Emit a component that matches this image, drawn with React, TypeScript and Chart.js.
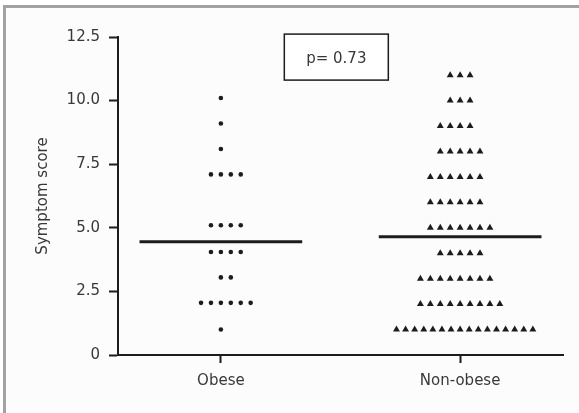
import React, { useEffect, useRef } from 'react';
import { Chart, registerables } from 'chart.js';

Chart.register(...registerables);

// ---- data ----
const categories = ['Obese', 'Non-obese'];
const obeseScores = [10.1, 9.1, 8.1, 7.1, 5.1, 4.05, 3.05, 2.05, 1.0];
const obeseCounts = [1, 1, 1, 4, 4, 4, 2, 6, 1];
const nonObeseScores = [11, 10, 9, 8, 7, 6, 5, 4, 3, 2, 1];
const nonObeseCounts = [3, 3, 4, 5, 6, 6, 7, 5, 8, 9, 16];
const medians = [4.45, 4.65];
const yTicks = [0, 2.5, 5, 7.5, 10, 12.5];
const pValueText = 'p= 0.73';

const INK = '#1c1c1c';
const TEXT = '#383838';
const FONT = "'DejaVu Sans', sans-serif";

// beeswarm-style row layout (like GraphPad scatter dot plots)
function swarm(center: number, scores: number[], counts: number[], leanRight: boolean) {
  const step = 0.0415;
  const maxSpan = 0.57;
  const pts: { x: number; y: number }[] = [];
  scores.forEach((s, i) => {
    const n = counts[i];
    const st = Math.min(step, maxSpan / Math.max(n - 1, 1));
    const start = leanRight || n > 12 ? -Math.floor((n - 1) / 2) : -Math.floor(n / 2);
    for (let k = 0; k < n; k++) pts.push({ x: center + (start + k) * st, y: s });
  });
  return pts;
}

const pBoxPlugin = {
  id: 'pBox',
  afterDatasetsDraw(chart: any) {
    const { ctx, scales } = chart;
    const cx = scales.x.getPixelForValue(1.4825);
    const cy = scales.y.getPixelForValue(11.71);
    const w = 104;
    const h = 46;
    ctx.save();
    ctx.fillStyle = '#ffffff';
    ctx.fillRect(cx - w / 2, cy - h / 2, w, h);
    ctx.strokeStyle = INK;
    ctx.lineWidth = 1.5;
    ctx.strokeRect(cx - w / 2, cy - h / 2, w, h);
    ctx.fillStyle = TEXT;
    ctx.font = `15px ${FONT}`;
    ctx.textAlign = 'center';
    ctx.textBaseline = 'middle';
    ctx.fillText(pValueText, cx, cy + 2);
    ctx.restore();
  },
};

export default function App() {
  const ref = useRef<HTMLCanvasElement | null>(null);

  useEffect(() => {
    if (!ref.current) return;
    const medianLine = (c: number, m: number) => [
      { x: c - 0.34, y: m },
      { x: c + 0.34, y: m },
    ];
    const chart = new Chart(ref.current, {
      type: 'scatter',
      data: {
        datasets: [
          {
            data: medianLine(1, medians[0]),
            showLine: true,
            borderColor: INK,
            borderWidth: 3,
            pointRadius: 0,
          },
          {
            data: medianLine(2, medians[1]),
            showLine: true,
            borderColor: INK,
            borderWidth: 3,
            pointRadius: 0,
          },
          {
            data: swarm(1, obeseScores, obeseCounts, true),
            pointStyle: 'circle',
            pointRadius: 2.3,
            backgroundColor: INK,
            borderWidth: 0,
          },
          {
            data: swarm(2, nonObeseScores, nonObeseCounts, false),
            pointStyle: 'triangle',
            pointRadius: 4,
            backgroundColor: INK,
            borderWidth: 0,
          },
        ] as any,
      },
      options: {
        animation: false,
        responsive: false,
        maintainAspectRatio: false,
        layout: { padding: { left: 29, top: 37, right: 16, bottom: 10 } },
        plugins: { legend: { display: false }, tooltip: { enabled: false } },
        elements: { line: { tension: 0 } },
        scales: {
          x: {
            type: 'linear',
            min: 0.57,
            max: 2.43,
            afterBuildTicks: (s: any) => {
              s.ticks = [{ value: 1 }, { value: 2 }];
            },
            afterFit: (s: any) => {
              s.height = 48;
            },
            ticks: {
              callback: (v: any) => (v === 1 ? categories[0] : v === 2 ? categories[1] : ''),
              color: TEXT,
              font: { family: FONT, size: 15 },
              padding: 9,
              autoSkip: false,
              maxRotation: 0,
            },
            grid: {
              drawOnChartArea: false,
              drawTicks: true,
              tickLength: 8,
              tickWidth: 2,
              tickColor: INK,
            },
            border: { color: INK, width: 2 },
          },
          y: {
            min: 0,
            max: 12.5,
            afterBuildTicks: (s: any) => {
              s.ticks = yTicks.map((v) => ({ value: v }));
            },
            afterFit: (s: any) => {
              s.width = 89;
            },
            ticks: {
              callback: (v: any) => (v === 0 ? '0' : Number(v).toFixed(1)),
              color: TEXT,
              font: { family: FONT, size: 15 },
              padding: 9,
            },
            grid: {
              drawOnChartArea: false,
              drawTicks: true,
              tickLength: 9,
              tickWidth: 2,
              tickColor: INK,
            },
            border: { color: INK, width: 2 },
            title: {
              display: true,
              text: 'Symptom score',
              color: TEXT,
              font: { family: FONT, size: 15 },
              padding: { top: 5, bottom: 0 },
            },
          },
        },
      } as any,
      plugins: [pBoxPlugin],
    });
    return () => chart.destroy();
  }, []);

  return (
    <div
      style={{
        position: 'fixed',
        left: 0,
        top: 0,
        width: 579,
        height: 413,
        overflow: 'hidden',
        background: '#ffffff',
      }}
    >
      <div
        style={{
          position: 'absolute',
          left: 3,
          top: 5,
          width: 576,
          height: 408,
          boxSizing: 'border-box',
          borderTop: '3px solid #a2a2a2',
          borderLeft: '3px solid #a2a2a2',
          background: '#fcfcfc',
        }}
      />
      <canvas
        ref={ref}
        width={579}
        height={413}
        style={{ position: 'absolute', left: 0, top: 0, width: 579, height: 413 }}
      />
    </div>
  );
}
